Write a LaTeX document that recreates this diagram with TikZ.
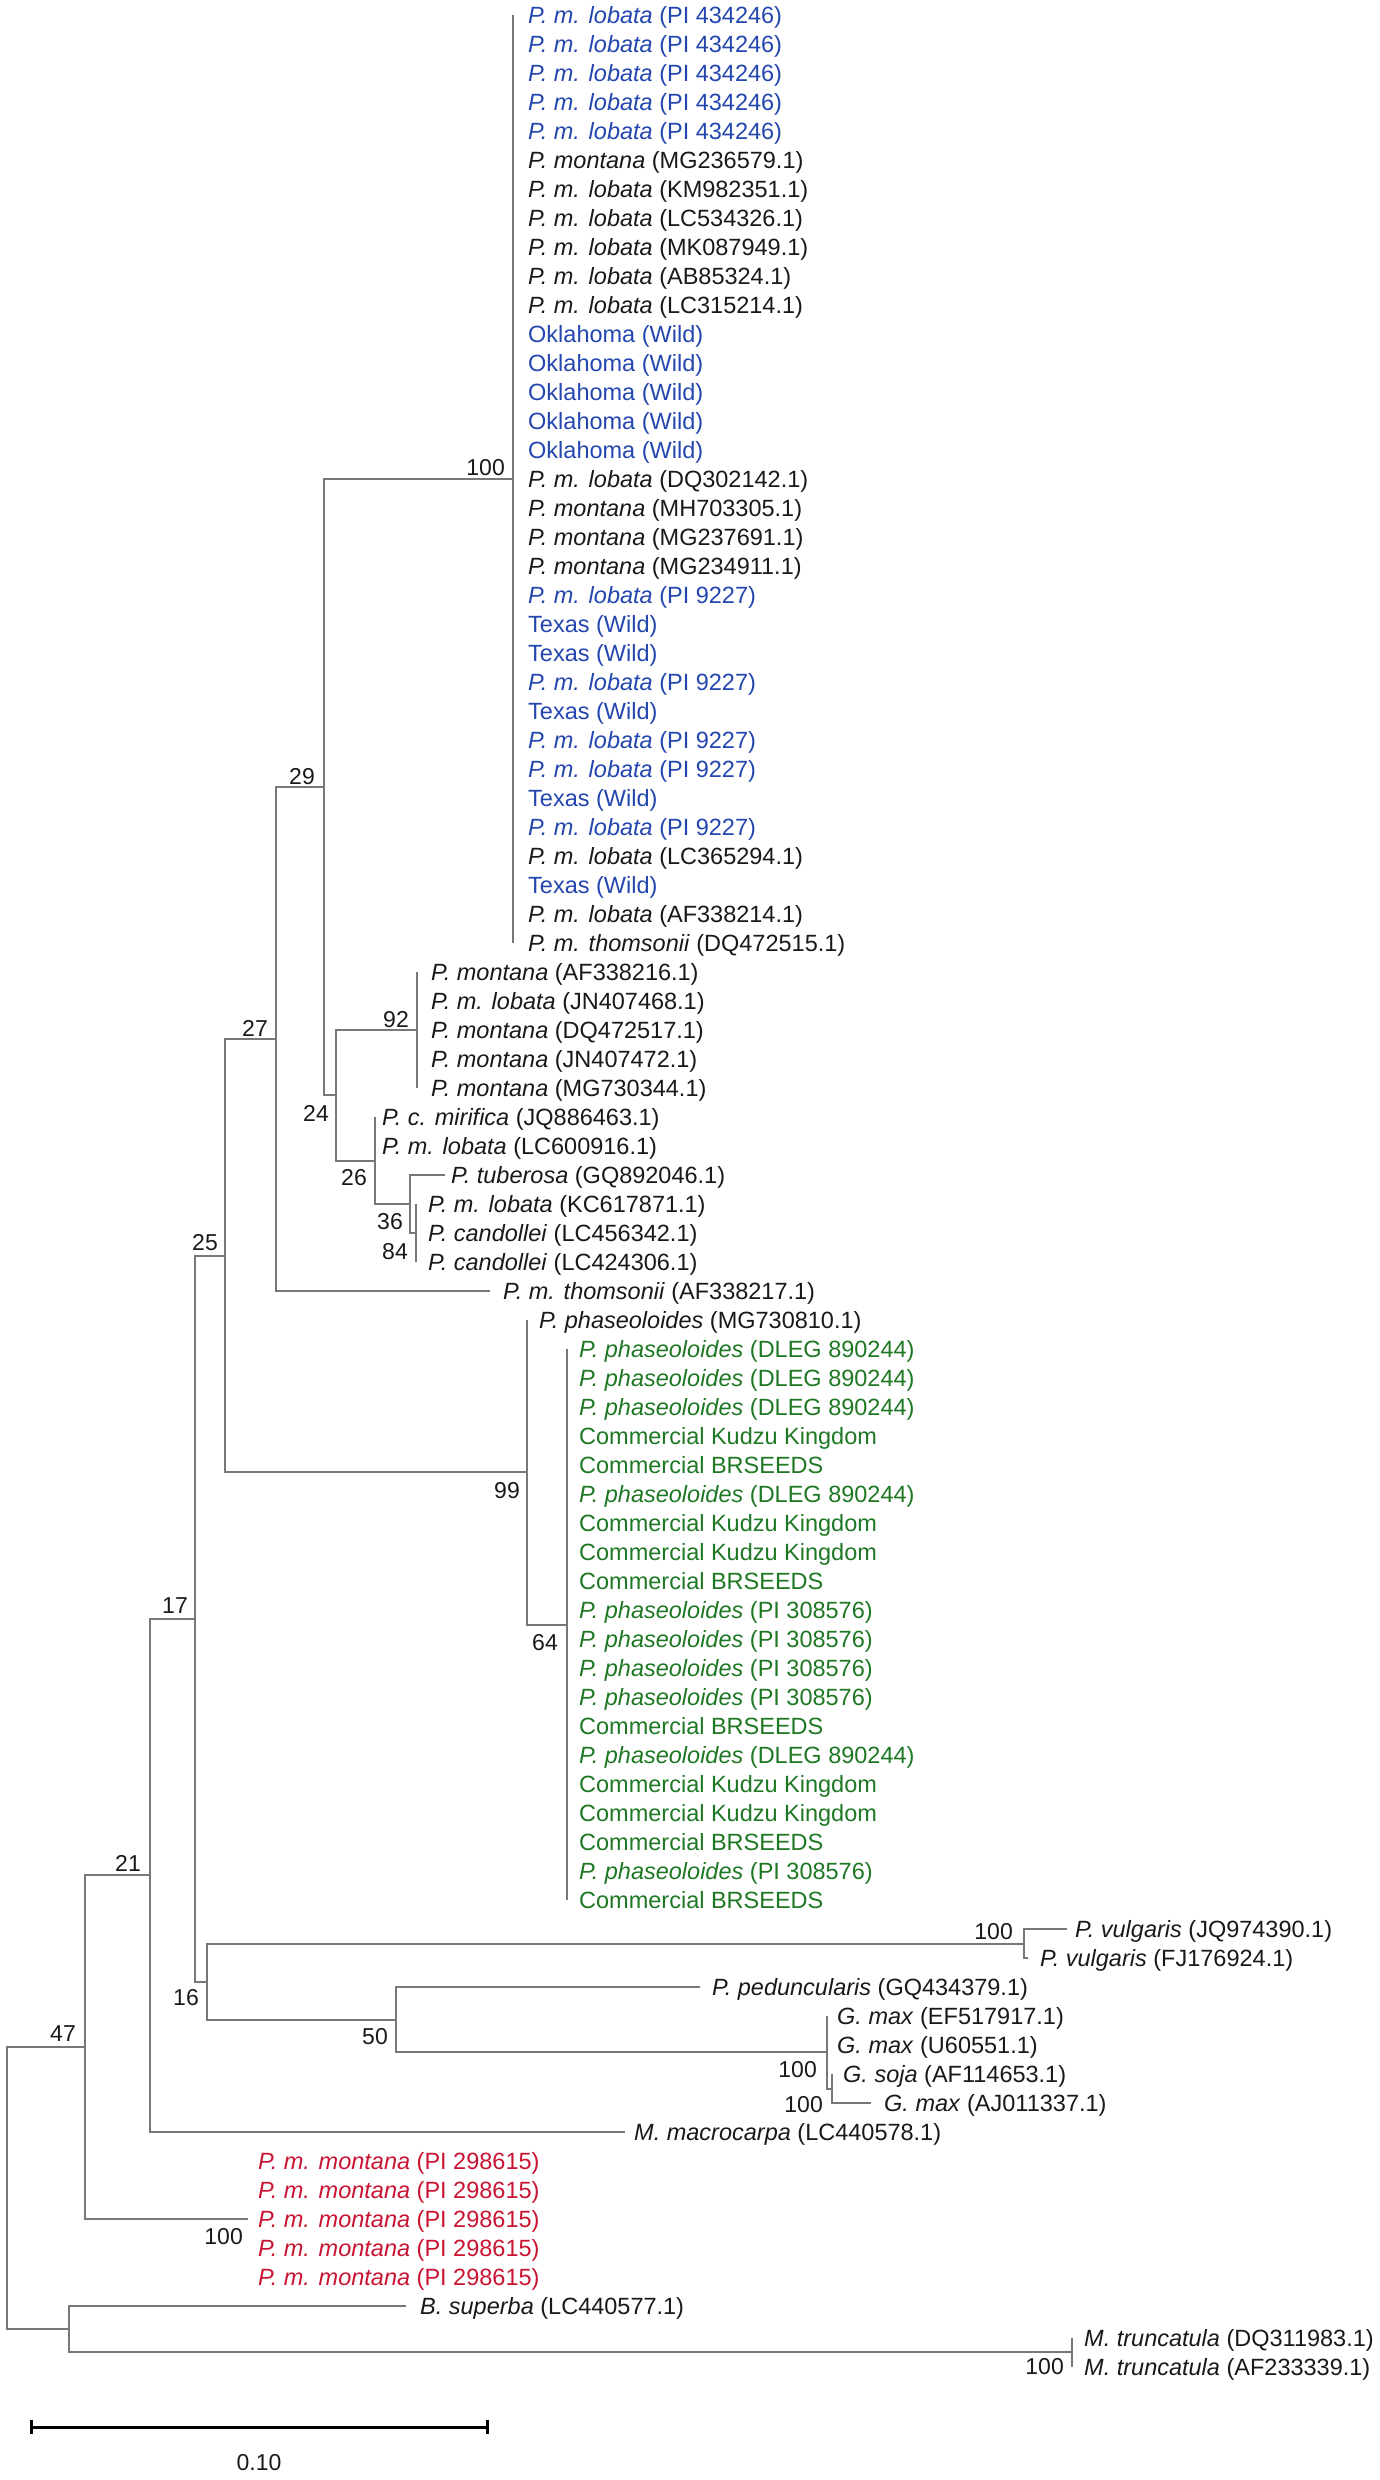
\documentclass[tikz,border=0pt]{standalone}
\usepackage{fontspec}
\setmainfont{Liberation Sans}
\usetikzlibrary{arrows.meta}
\definecolor{tblue}{RGB}{35,70,175}
\definecolor{tgreen}{RGB}{30,120,35}
\definecolor{tred}{RGB}{200,20,50}
\definecolor{ttext}{RGB}{25,25,25}
\definecolor{tline}{RGB}{120,120,120}
\newcommand\mkleaf[6]{\coordinate (#1) at (#3,{15+29*#2}); \node[#5] (#1l) at (#4,{15+29*#2}) {#6};}
\newcommand\pml{\textit{P. m. lobata}}
\newcommand\pmo{\textit{P. montana}}
\newcommand\pph{\textit{P. phaseoloides}}
\begin{document}
\begin{tikzpicture}[x=1pt,y=-1pt,
 br/.style={draw=tline, line width=2pt},
 lab/.style={anchor=base west, inner sep=0pt, yshift=-8.4pt, text=ttext, font=\fontsize{23.5}{28}\selectfont},
 labb/.style={lab, text=tblue},
 labg/.style={lab, text=tgreen},
 labr/.style={lab, text=tred},
 bs/.style={anchor=east, inner sep=0pt, text=ttext, font=\fontsize{23}{28}\selectfont}]
\useasboundingbox (0,0) rectangle (1380,2480);

% ---------- leaves ----------
\foreach \r in {0,...,4} {\mkleaf{a\r}{\r}{513}{528}{labb}{\pml{} (PI 434246)}}
\mkleaf{a5}{5}{513}{528}{lab}{\pmo{} (MG236579.1)}
\mkleaf{a6}{6}{513}{528}{lab}{\pml{} (KM982351.1)}
\mkleaf{a7}{7}{513}{528}{lab}{\pml{} (LC534326.1)}
\mkleaf{a8}{8}{513}{528}{lab}{\pml{} (MK087949.1)}
\mkleaf{a9}{9}{513}{528}{lab}{\pml{} (AB85324.1)}
\mkleaf{a10}{10}{513}{528}{lab}{\pml{} (LC315214.1)}
\foreach \r in {11,...,15} {\mkleaf{a\r}{\r}{513}{528}{labb}{Oklahoma (Wild)}}
\mkleaf{a16}{16}{513}{528}{lab}{\pml{} (DQ302142.1)}
\mkleaf{a17}{17}{513}{528}{lab}{\pmo{} (MH703305.1)}
\mkleaf{a18}{18}{513}{528}{lab}{\pmo{} (MG237691.1)}
\mkleaf{a19}{19}{513}{528}{lab}{\pmo{} (MG234911.1)}
\foreach \r in {20,23,25,26,28} {\mkleaf{a\r}{\r}{513}{528}{labb}{\pml{} (PI 9227)}}
\foreach \r in {21,22,24,27,30} {\mkleaf{a\r}{\r}{513}{528}{labb}{Texas (Wild)}}
\mkleaf{a29}{29}{513}{528}{lab}{\pml{} (LC365294.1)}
\mkleaf{a31}{31}{513}{528}{lab}{\pml{} (AF338214.1)}
\mkleaf{a32}{32}{513}{528}{lab}{\textit{P. m. thomsonii} (DQ472515.1)}

\mkleaf{a33}{33}{417}{431}{lab}{\pmo{} (AF338216.1)}
\mkleaf{a34}{34}{417}{431}{lab}{\pml{} (JN407468.1)}
\mkleaf{a35}{35}{417}{431}{lab}{\pmo{} (DQ472517.1)}
\mkleaf{a36}{36}{417}{431}{lab}{\pmo{} (JN407472.1)}
\mkleaf{a37}{37}{417}{431}{lab}{\pmo{} (MG730344.1)}
\mkleaf{a38}{38}{375}{382}{lab}{\textit{P. c. mirifica} (JQ886463.1)}
\mkleaf{a39}{39}{375}{382}{lab}{\pml{} (LC600916.1)}
\mkleaf{a40}{40}{445}{451}{lab}{\textit{P. tuberosa} (GQ892046.1)}
\mkleaf{a41}{41}{416}{428}{lab}{\pml{} (KC617871.1)}
\mkleaf{a42}{42}{416}{428}{lab}{\textit{P. candollei} (LC456342.1)}
\mkleaf{a43}{43}{416}{428}{lab}{\textit{P. candollei} (LC424306.1)}
\mkleaf{a44}{44}{490}{503}{lab}{\textit{P. m. thomsonii} (AF338217.1)}
\mkleaf{a45}{45}{527}{539}{lab}{\pph{} (MG730810.1)}
\foreach \r in {46,47,48,51,60} {\mkleaf{a\r}{\r}{567}{579}{labg}{\pph{} (DLEG 890244)}}
\foreach \r in {49,52,53,61,62} {\mkleaf{a\r}{\r}{567}{579}{labg}{Commercial Kudzu Kingdom}}
\foreach \r in {50,54,59,63,65} {\mkleaf{a\r}{\r}{567}{579}{labg}{Commercial BRSEEDS}}
\foreach \r in {55,56,57,58,64} {\mkleaf{a\r}{\r}{567}{579}{labg}{\pph{} (PI 308576)}}
\mkleaf{a66}{66}{1067}{1075}{lab}{\textit{P. vulgaris} (JQ974390.1)}
\mkleaf{a67}{67}{1028}{1040}{lab}{\textit{P. vulgaris} (FJ176924.1)}
\mkleaf{a68}{68}{700}{712}{lab}{\textit{P. peduncularis} (GQ434379.1)}
\mkleaf{a69}{69}{827}{837}{lab}{\textit{G. max} (EF517917.1)}
\mkleaf{a70}{70}{827}{837}{lab}{\textit{G. max} (U60551.1)}
\mkleaf{a71}{71}{832}{843}{lab}{\textit{G. soja} (AF114653.1)}
\mkleaf{a72}{72}{871}{884}{lab}{\textit{G. max} (AJ011337.1)}
\mkleaf{a73}{73}{625}{634}{lab}{\textit{M. macrocarpa} (LC440578.1)}
\foreach \r in {74,...,78} {\mkleaf{a\r}{\r}{248}{258}{labr}{\textit{P. m. montana} (PI 298615)}}
\mkleaf{a79}{79}{406}{420}{lab}{\textit{B. superba} (LC440577.1)}
\mkleaf{a80}{80.1}{1072}{1084}{lab}{\textit{M. truncatula} (DQ311983.1)}
\mkleaf{a81}{81.1}{1072}{1084}{lab}{\textit{M. truncatula} (AF233339.1)}

% ---------- internal nodes ----------
\coordinate (nA)  at (513,479);
\coordinate (n92) at (417,1030);
\coordinate (n84) at (416,1233);
\coordinate (n36) at (410,1204);
\coordinate (n26) at (375,1160.5);
\coordinate (n24) at (336,1095);
\coordinate (n29) at (324,787);
\coordinate (n27) at (276,1039);
\coordinate (n64) at (567,1624.5);
\coordinate (n99) at (527,1472);
\coordinate (n25) at (225,1255.5);
\coordinate (nV)  at (1024,1943.5);
\coordinate (nG2) at (832,2088.5);
\coordinate (nG1) at (827,2052);
\coordinate (n50) at (396,2019.5);
\coordinate (n16) at (207,1981.5);
\coordinate (n17) at (195,1618.5);
\coordinate (n21) at (150,1875);
\coordinate (nR)  at (248,2219);
\coordinate (n47) at (85,2047);
\coordinate (nT)  at (1072,2352);
\coordinate (nB)  at (69,2329);
\coordinate (root) at (7,2188);

% ---------- branches ----------
\draw[br] (nA) |- (a0);  \draw[br] (nA) |- (a32);
\draw[br] (n29) |- (nA); \draw[br] (n29) |- (n24);
\draw[br] (n24) |- (n92); \draw[br] (n24) |- (n26);
\draw[br] (n92) |- (a33); \draw[br] (n92) |- (a37);
\draw[br] (n26) |- (a38); \draw[br] (n26) |- (a39); \draw[br] (n26) |- (n36);
\draw[br] (n36) |- (a40); \draw[br] (n36) |- (n84);
\draw[br] (n84) |- (a41); \draw[br] (n84) |- (a43);
\draw[br] (n27) |- (n29); \draw[br] (n27) |- (a44);
\draw[br] (n25) |- (n27); \draw[br] (n25) |- (n99);
\draw[br] (n99) |- (a45); \draw[br] (n99) |- (n64);
\draw[br] (n64) |- (a46); \draw[br] (n64) |- (a65);
\draw[br] (n17) |- (n25); \draw[br] (n17) |- (n16);
\draw[br] (n16) |- (nV);  \draw[br] (n16) |- (n50);
\draw[br] (nV) |- (a66);  \draw[br] (nV) |- (a67);
\draw[br] (n50) |- (a68); \draw[br] (n50) |- (nG1);
\draw[br] (nG1) |- (a69); \draw[br] (nG1) |- (a70); \draw[br] (nG1) |- (nG2);
\draw[br] (nG2) |- (a71); \draw[br] (nG2) |- (a72);
\draw[br] (n21) |- (n17); \draw[br] (n21) |- (a73);
\draw[br] (n47) |- (n21); \draw[br] (n47) |- (nR);
\draw[br] (root) |- (n47); \draw[br] (root) |- (nB);
\draw[br] (nB) |- (a79); \draw[br] (nB) |- (nT);
\draw[br] (nT) |- (a80); \draw[br] (nT) |- (a81);

% ---------- bootstrap values ----------
\node[bs] (bA)  at (505,468)  {100};
\node[bs] (b29) at (315,777)  {29};
\node[bs] (b27) at (268,1028) {27};
\node[bs] (b24) at (329,1113) {24};
\node[bs] (b92) at (409,1020) {92};
\node[bs] (b26) at (367,1178) {26};
\node[bs] (b36) at (403,1222) {36};
\node[bs] (b84) at (408,1252) {84};
\node[bs] (b25) at (218,1243) {25};
\node[bs] (b99) at (520,1491) {99};
\node[bs] (b64) at (558,1643) {64};
\node[bs] (b17) at (188,1606) {17};
\node[bs] (b21) at (141,1863) {21};
\node[bs] (b16) at (199,1998) {16};
\node[bs] (b50) at (388,2037) {50};
\node[bs] (b47) at (76,2034)  {47};
\node[bs] (bV)  at (1013,1932) {100};
\node[bs] (bG1) at (817,2070) {100};
\node[bs] (bG2) at (823,2105) {100};
\node[bs] (bR)  at (243,2237) {100};
\node[bs] (bT)  at (1064,2367) {100};

% ---------- scale bar ----------
\coordinate (sb1) at (30,2427);
\coordinate (sb2) at (489,2427);
\draw[line width=3pt, {Bar[width=14pt]}-{Bar[width=14pt]}] (sb1) -- (sb2);
\node[bs, anchor=center] (sbl) at (259,2463) {0.10};
\end{tikzpicture}
\end{document}
